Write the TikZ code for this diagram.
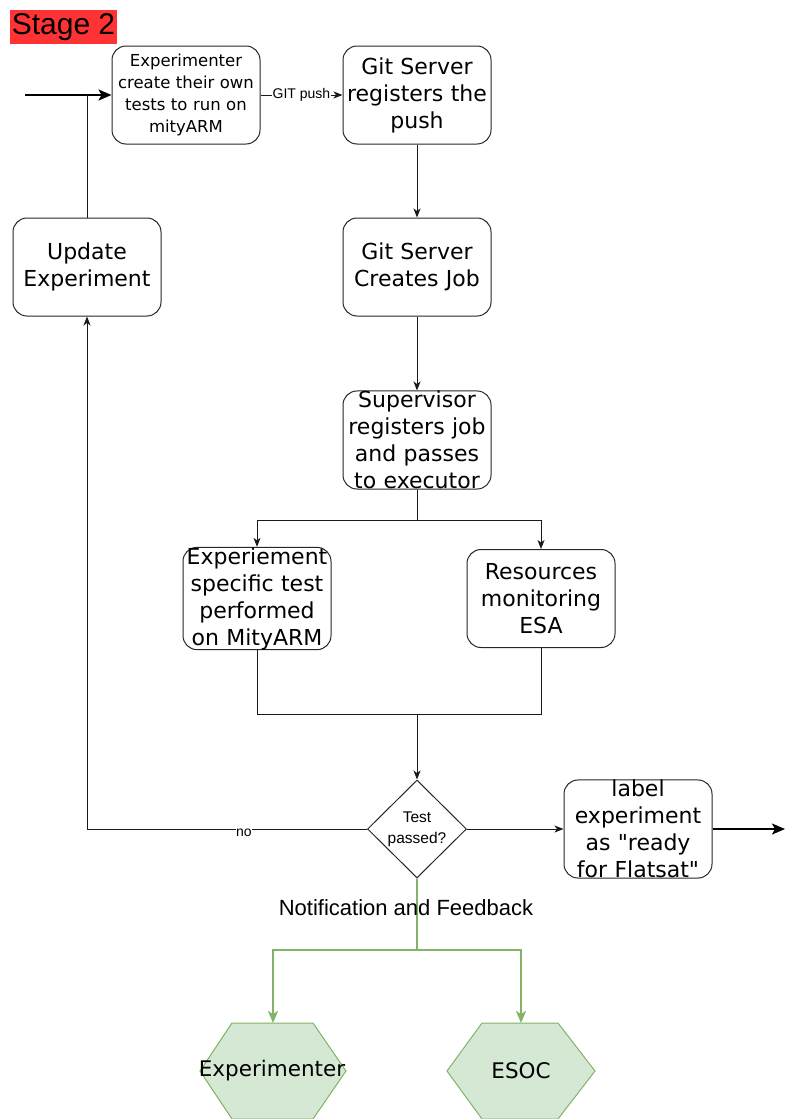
\documentclass[tikz,border=0pt]{standalone}
\usepackage{fontspec}
\newfontfamily\boxfont{DejaVu Sans}
\newfontfamily\arialfont{Liberation Sans}
\usetikzlibrary{arrows.meta,shapes.geometric}
\definecolor{stagered}{HTML}{FF3333}
\definecolor{fbgreen}{HTML}{82B366}
\definecolor{fbfill}{HTML}{D5E8D4}
\begin{document}
\begin{tikzpicture}[x=1pt,y=-1pt,
  box/.style={draw=black!85, line width=1pt, rounded corners=14pt,
    minimum width=148pt, minimum height=98pt, inner sep=0pt,
    align=center, text width=146pt, font=\boxfont\fontsize{22}{27}\selectfont},
  smallbox/.style={box, font=\boxfont\fontsize{16.5}{22}\selectfont},
  line/.style={line width=1pt, draw=black!90},
  arr/.style={line, -{Stealth[length=9pt,width=7pt,inset=2.5pt]}},
  thickarr/.style={line width=2pt, draw=black, -{Stealth[length=13pt,width=11pt,inset=3pt]}},
  greenline/.style={line width=2pt, draw=fbgreen},
  greenarr/.style={greenline, -{Stealth[length=12pt,width=10pt,inset=3pt]}, fbgreen},
  hexa/.style={draw=fbgreen, fill=fbfill, line width=1pt},
  small/.style={font=\arialfont\fontsize{14}{16}\selectfont},
]
\useasboundingbox (0,0) rectangle (785,1119);

% title tag
\node[fill=stagered, inner sep=0pt, minimum width=107pt, minimum height=34pt,
      font=\arialfont\fontsize{30}{30}\selectfont] (stage) at (63.5,27) {Stage 2};

% process boxes
\node[smallbox] (exp) at (186,95) {Experimenter\\create their own\\tests to run on\\mityARM};
\node[box] (push) at (417,95) {Git Server\\registers the\\push};
\node[box] (job) at (417,267) {Git Server\\Creates Job};
\node[box] (upd) at (87,267) {Update\\Experiment};
\node[box] (sup) at (417,440) {Supervisor\\registers job\\and passes\\to executor};
\node[box] (test) at (257,598.5) {Experiement\\specific test\\performed\\on MityARM};
\node[box] (res) at (541,598.5) {Resources\\monitoring\\ESA};
\node[draw=black!85, line width=1pt, diamond, minimum width=99pt, minimum height=98pt,
      inner sep=0pt, label={[align=center, font=\arialfont\fontsize{15.5}{21}\selectfont]center:Test\\passed?}]
      (dec) at (417,829) {};
\node[box] (flat) at (638,829) {label\\experiment\\as "ready\\for Flatsat"};

% recipients
\draw[hexa] (200,1071) -- (232,1023) -- (313,1023) -- (346,1071) -- (313,1119) -- (232,1119) -- cycle;
\draw[hexa] (447,1071) -- (482,1023) -- (558,1023) -- (595,1071) -- (558,1119) -- (482,1119) -- cycle;
\node[font=\boxfont\fontsize{21.5}{27}\selectfont] (hexexp) at (272,1071) {Experimenter};
\node[font=\boxfont\fontsize{21.5}{27}\selectfont] (hexesoc) at (521,1071) {ESOC};
\coordinate (hexexptop) at (273,1023);
\coordinate (hexesoctop) at (521,1023);

% connectors
\coordinate (in) at (25,95);
\draw[thickarr] (in) -- (exp.west);
\draw[line] (upd.north) -- (upd.north |- exp.west);
\draw[arr] (exp.east) -- node[small, fill=white, inner sep=1pt] {GIT push} (push.west);
\draw[arr] (push.south) -- (job.north);
\draw[arr] (job.south) -- (sup.north);
\coordinate (split) at (417,520);
\draw[line] (sup.south) -- (split);
\draw[arr] (split) -| (test.north);
\draw[arr] (split) -| (res.north);
\coordinate (join) at (417,714);
\draw[line] (test.south) |- (join);
\draw[line] (res.south) |- (join);
\draw[arr] (join) -- (dec.north);
\draw[arr] (dec.west) -| node[small, pos=0.22, yshift=-4pt, fill=white, inner sep=0.5pt] {no} (upd.south);
\draw[arr] (dec.east) -- (flat.west);
\coordinate (out) at (785,829);
\draw[thickarr] (flat.east) -- (out);

% feedback
\coordinate (fb) at (417,950);
\draw[greenline] (dec.south) -- (fb);
\draw[greenarr] (fb) -| (hexexptop);
\draw[greenarr] (fb) -| (hexesoctop);
\node[font=\arialfont\fontsize{22}{26}\selectfont] (fbtext) at (406,908) {Notification and Feedback};
\end{tikzpicture}
\end{document}
